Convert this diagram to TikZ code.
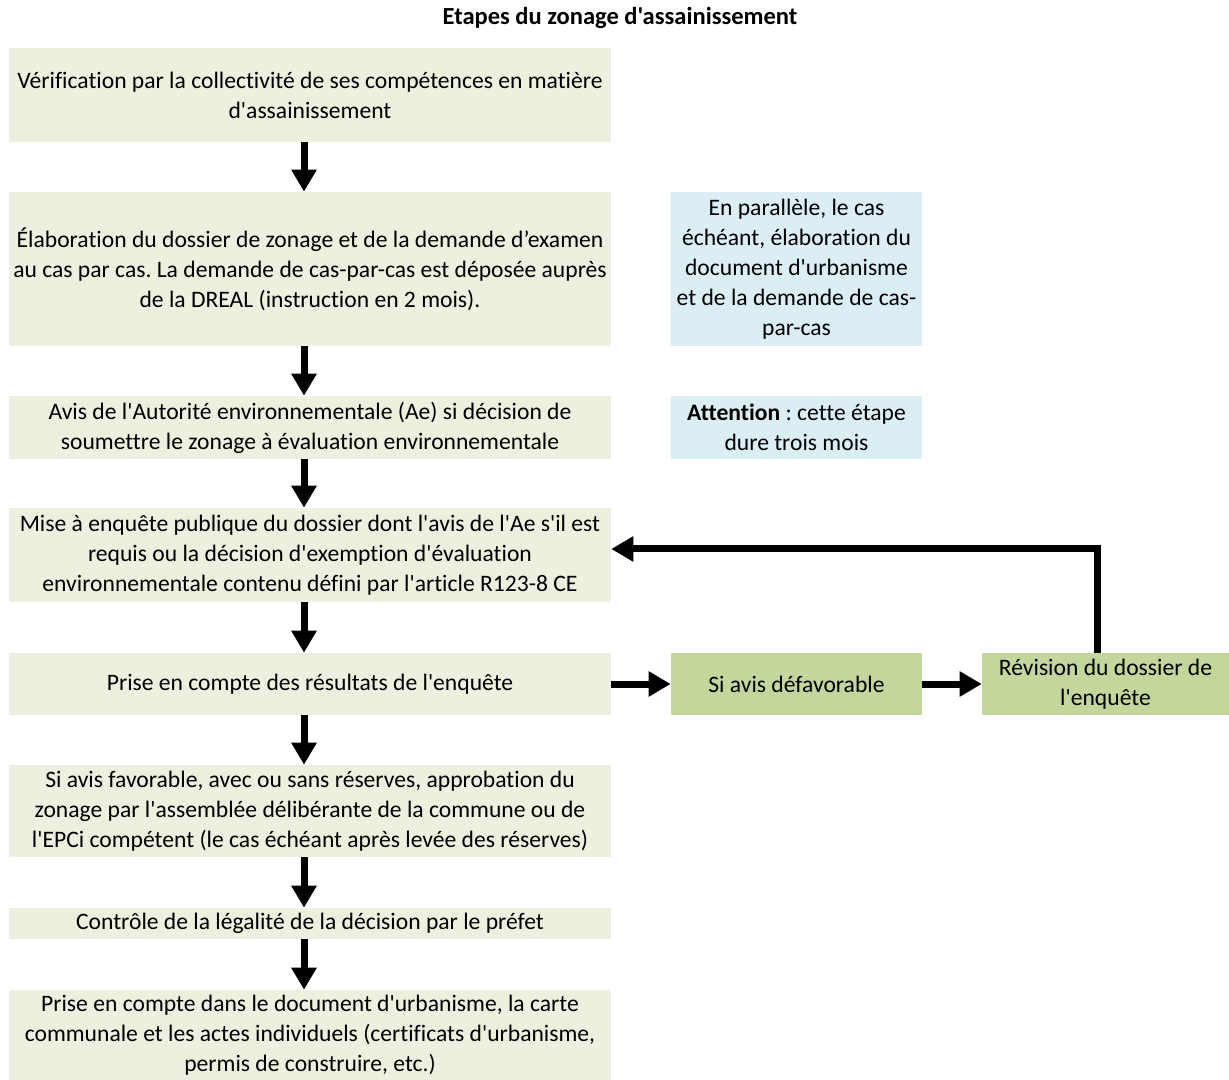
\documentclass[tikz,border=0pt]{standalone}
\usepackage{fontspec}
\setmainfont{Carlito}[Ligatures={TeXOff,NoCommon}]
\usetikzlibrary{arrows.meta}
\definecolor{boxg}{HTML}{EBF1DE}
\definecolor{boxb}{HTML}{DBEEF4}
\definecolor{boxd}{HTML}{C3D69B}
\frenchspacing
\begin{document}
\begin{tikzpicture}[x=0.75pt,y=-0.75pt,
  base/.style={inner sep=0pt, align=center, font=\fontsize{17.7}{22.5}\selectfont},
  stepbox/.style={base, fill=boxg, minimum width=451.5pt},
  notebox/.style={base, fill=boxb, minimum width=188.25pt},
  altbox/.style={base, fill=boxd},
  arr/.style={line width=5.25pt, -{Triangle[length=16.5pt,width=18pt]}, line join=miter}]
\useasboundingbox (0,0) rectangle (1229,1080);
\node[font=\fontsize{18.4}{22.5}\selectfont\bfseries] (title) at (620,18) {Etapes du zonage d'assainissement};
\node[stepbox, minimum height=70.5pt] (b1) at (310,95) {Vérification par la collectivité de ses compétences en matière\\d'assainissement};
\node[stepbox, minimum height=115.5pt] (b2) at (310,269) {Élaboration du dossier de zonage et de la demande d’examen\\au cas par cas. La demande de cas-par-cas est déposée auprès\\de la DREAL (instruction en 2 mois).};
\node[stepbox, minimum height=47.25pt] (b3) at (310,427.5) {Avis de l'Autorité environnementale (Ae) si décision de\\soumettre le zonage à évaluation environnementale};
\node[stepbox, minimum height=70.5pt] (b4) at (310,555) {Mise à enquête publique du dossier dont l'avis de l'Ae s'il est\\requis ou la décision d'exemption d'évaluation\\environnementale contenu défini par l'article R123-8 CE};
\node[stepbox, minimum height=46.5pt] (b5) at (310,684) {Prise en compte des résultats de l'enquête};
\node[stepbox, minimum height=69pt] (b6) at (310,811) {Si avis favorable, avec ou sans réserves, approbation du\\zonage par l'assemblée délibérante de la commune ou de\\l'EPCi compétent (le cas échéant après levée des réserves)};
\node[stepbox, minimum height=23.25pt] (b7) at (310,923.5) {Contrôle de la légalité de la décision par le préfet};
\node[stepbox, minimum height=67.5pt] (b8) at (310,1035) {Prise en compte dans le document d'urbanisme, la carte\\communale et les actes individuels (certificats d'urbanisme,\\permis de construire, etc.)};
\node[notebox, minimum height=115.5pt] (n1) at (796.5,269) {En parallèle, le cas\\échéant, élaboration du\\document d'urbanisme\\et de la demande de cas-\\par-cas};
\node[notebox, minimum height=47.25pt] (n2) at (796.5,427.5) {\textbf{Attention} : cette étape\\dure trois mois};
\node[altbox, minimum width=188.25pt, minimum height=46.5pt] (g1) at (796.5,684) {Si avis défavorable};
\node[altbox, minimum width=185.25pt, minimum height=46.5pt] (g2) at (1105.5,684) {Révision du dossier de\\l'enquête};
\foreach \a/\b in {b1/b2,b2/b3,b3/b4,b4/b5,b5/b6,b6/b7,b7/b8}
  \draw[arr] ([xshift=-4.5pt]\a.south) -- ([xshift=-4.5pt]\b.north);
\draw[arr] (b5.east) -- (g1.west);
\draw[arr] (g1.east) -- (g2.west);
\draw[arr] ([xshift=-6.375pt]g2.north) |- ([yshift=4.5pt]b4.east);
\end{tikzpicture}
\end{document}
